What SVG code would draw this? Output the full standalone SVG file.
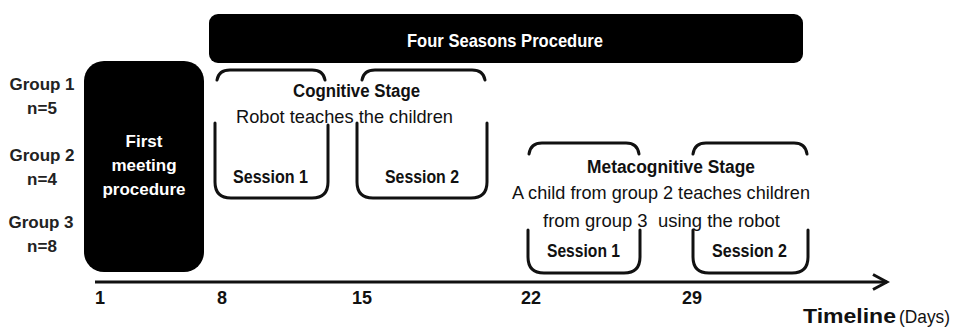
<svg xmlns="http://www.w3.org/2000/svg" width="955" height="329" viewBox="0 0 955 329">
  <defs>
    <style>
      .t { font-family: "Liberation Sans", Arial, sans-serif; fill: #111; }
      .b { font-weight: bold; }
      .w { fill: #fff; }
      .g { font-size: 17px; font-weight: bold; text-anchor: middle; fill: #222; }
      .num { font-size: 18px; font-weight: bold; fill: #111; }
      .br { fill: none; stroke: #111; stroke-width: 3; stroke-linecap: round; stroke-linejoin: round; }
      .box { fill: #000; }
    </style>
    <marker id="arrow" markerUnits="userSpaceOnUse" markerWidth="20" markerHeight="20" viewBox="0 0 20 20" refX="17" refY="10" orient="auto">
      <path d="M3,2.5 L17,10 L3,17.5" fill="none" stroke="#111" stroke-width="3" stroke-linejoin="miter"/>
    </marker>
  </defs>
  <rect width="955" height="329" fill="#fff"/>

  <g id="group-labels">
    <text class="t g" x="42" y="90">Group 1</text>
    <text class="t g" x="42" y="114">n=5</text>
    <text class="t g" x="42" y="161">Group 2</text>
    <text class="t g" x="42" y="185">n=4</text>
    <text class="t g" x="41" y="228">Group 3</text>
    <text class="t g" x="42" y="252">n=8</text>
  </g>

  <g id="first-meeting">
    <rect class="box" x="84" y="61" width="120" height="211" rx="20" ry="20"/>
    <text class="t b w" font-size="17" text-anchor="middle" x="144" y="147">First</text>
    <text class="t b w" font-size="17" text-anchor="middle" x="144" y="171">meeting</text>
    <text class="t b w" font-size="17" text-anchor="middle" x="144" y="195">procedure</text>
  </g>

  <g id="four-seasons">
    <rect class="box" x="209" y="14" width="594" height="49" rx="9" ry="9"/>
    <text class="t b w" font-size="19" x="407" y="47" textLength="196" lengthAdjust="spacingAndGlyphs">Four Seasons Procedure</text>
  </g>

  <g id="cognitive-stage">
    <path class="br" d="M217,80 C218,74 222,70 230,70 L312,70 C320,70 324,74 325,80"/>
    <path class="br" d="M362,80 C363,74 367,70 375,70 L472,70 C480,70 484,74 485,80"/>
    <text class="t b" font-size="18" x="293" y="97" textLength="127" lengthAdjust="spacingAndGlyphs">Cognitive Stage</text>
    <text class="t" font-size="19" x="236" y="123" fill="#222" textLength="217" lengthAdjust="spacingAndGlyphs">Robot teaches the children</text>
  </g>

  <g id="cog-session-1">
    <path class="br" d="M215,123 V182 Q215,198 231,198 H312 Q328,198 328,182 V125"/>
    <text class="t b" font-size="18" x="233" y="183" textLength="75" lengthAdjust="spacingAndGlyphs">Session 1</text>
  </g>

  <g id="cog-session-2">
    <path class="br" d="M357,123 V182 Q357,198 373,198 H471 Q487,198 487,182 V123"/>
    <text class="t b" font-size="18" x="385" y="183" textLength="74" lengthAdjust="spacingAndGlyphs">Session 2</text>
  </g>

  <g id="metacognitive-stage">
    <path class="br" d="M529,154 C530,147 534,143 542,143 L626,143 C634,143 638,147 639,154"/>
    <path class="br" d="M693,154 C694,147 698,143 706,143 L794,143 C802,143 806,147 807,154"/>
    <text class="t b" font-size="18" x="587" y="173" textLength="168" lengthAdjust="spacingAndGlyphs">Metacognitive Stage</text>
    <text class="t" font-size="19" x="512" y="199" fill="#222" textLength="298" lengthAdjust="spacingAndGlyphs">A child from group 2 teaches children</text>
    <text class="t" font-size="19" x="543" y="227" fill="#222" style="white-space:pre" xml:space="preserve" textLength="237" lengthAdjust="spacingAndGlyphs">from group 3  using the robot</text>
  </g>

  <g id="meta-session-1">
    <path class="br" d="M528,230 V257 Q528,273 544,273 H624 Q640,273 640,257 V230"/>
    <text class="t b" font-size="18" x="547" y="257" textLength="73" lengthAdjust="spacingAndGlyphs">Session 1</text>
  </g>

  <g id="meta-session-2">
    <path class="br" d="M693,230 V257 Q693,273 709,273 H792 Q808,273 808,257 V230"/>
    <text class="t b" font-size="18" x="712" y="257" textLength="75" lengthAdjust="spacingAndGlyphs">Session 2</text>
  </g>

  <g id="connectors">
    <line x1="95" y1="282" x2="887" y2="282" stroke="#111" stroke-width="3" marker-end="url(#arrow)"/>
  </g>

  <g id="timeline-labels">
    <text class="t num" x="95" y="304">1</text>
    <text class="t num" x="217" y="304">8</text>
    <text class="t num" x="352" y="304">15</text>
    <text class="t num" x="521" y="304">22</text>
    <text class="t num" x="682" y="304">29</text>
    <text class="t b" font-size="21" x="803" y="323" textLength="93" lengthAdjust="spacingAndGlyphs">Timeline</text>
    <text class="t" font-size="19" x="899" y="323" textLength="51" lengthAdjust="spacingAndGlyphs">(Days)</text>
  </g>
</svg>
